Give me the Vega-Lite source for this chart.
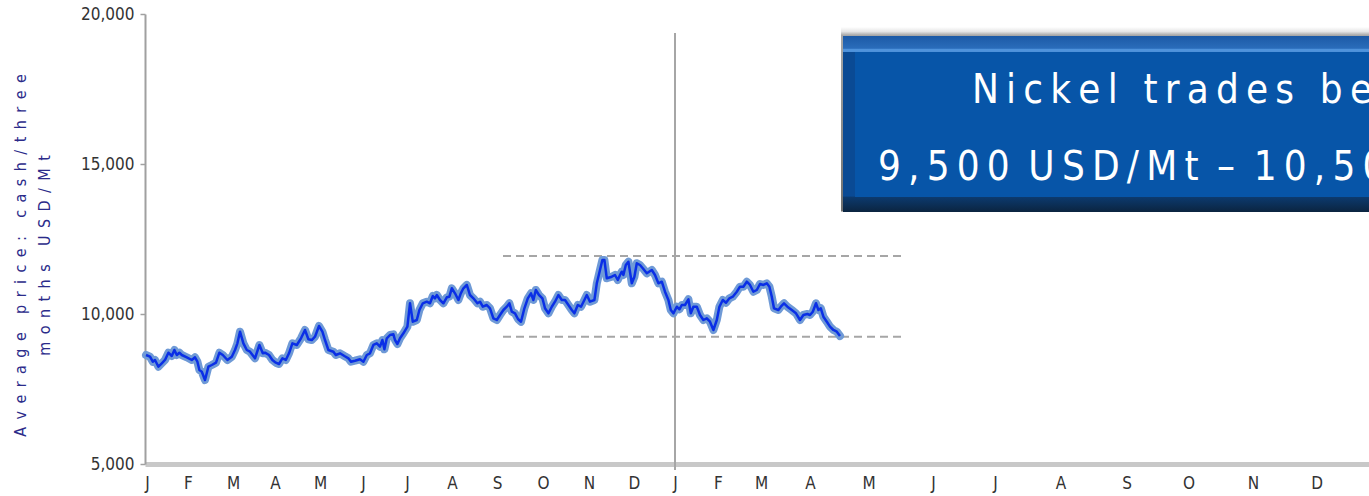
{
  "$schema": "https://vega.github.io/schema/vega-lite/v6.json",
  "width": 1224,
  "height": 450,
  "autosize": {"type": "none"},
  "padding": {"left": 145, "top": 14, "right": 0, "bottom": 32},
  "background": "white",
  "config": {"view": {"stroke": null}, "font": "DejaVu Sans Condensed, DejaVu Sans, sans-serif"},
  "resolve": {"axis": {"x": "independent", "y": "independent"}},
  "datasets": {
    "price": [
      {"d":0.5,"p":8633},{"d":2.5,"p":8577},{"d":3.9,"p":8410},{"d":5,"p":8467},{"d":6.7,"p":8243},{"d":8.4,"p":8357},{"d":10,"p":8467},{"d":11.7,"p":8710},{"d":13.4,"p":8600},{"d":14.7,"p":8800},{"d":15.9,"p":8633},{"d":17.2,"p":8710},{"d":18.4,"p":8633},{"d":20.9,"p":8557},{"d":23.4,"p":8467},{"d":25,"p":8557},{"d":26.2,"p":8410},{"d":27.2,"p":8133},{"d":28.4,"p":8077},{"d":30,"p":7800},{"d":31.7,"p":8243},{"d":33.4,"p":8300},{"d":35.5,"p":8377},{"d":37.2,"p":8710},{"d":38.9,"p":8633},{"d":41.2,"p":8467},{"d":43.4,"p":8577},{"d":45,"p":8800},{"d":46.2,"p":9023},{"d":47.5,"p":9410},{"d":49.2,"p":9023},{"d":50.9,"p":8800},{"d":52.5,"p":8743},{"d":55,"p":8523},{"d":57.2,"p":8967},{"d":58.9,"p":8690},{"d":60,"p":8710},{"d":62,"p":8633},{"d":63.7,"p":8467},{"d":65.4,"p":8377},{"d":67,"p":8333},{"d":68.7,"p":8523},{"d":70.4,"p":8467},{"d":72,"p":8690},{"d":73.7,"p":9023},{"d":75.9,"p":8967},{"d":78,"p":9190},{"d":80,"p":9467},{"d":81.7,"p":9157},{"d":83.4,"p":9133},{"d":85,"p":9243},{"d":87,"p":9600},{"d":88.7,"p":9410},{"d":90,"p":9133},{"d":91.7,"p":8800},{"d":94.2,"p":8743},{"d":95.4,"p":8633},{"d":97.5,"p":8690},{"d":99.7,"p":8600},{"d":101.7,"p":8523},{"d":103,"p":8410},{"d":105,"p":8443},{"d":107.5,"p":8490},{"d":109.2,"p":8410},{"d":110.9,"p":8633},{"d":112.5,"p":8690},{"d":114.2,"p":8967},{"d":115.9,"p":9023},{"d":117.5,"p":8910},{"d":118.7,"p":9133},{"d":119.7,"p":8823},{"d":120.9,"p":9190},{"d":122.5,"p":9300},{"d":124.2,"p":9323},{"d":125,"p":9133},{"d":126.2,"p":9000},{"d":127.5,"p":9190},{"d":129.2,"p":9357},{"d":131.2,"p":9577},{"d":132.5,"p":10357},{"d":133.9,"p":9743},{"d":135.9,"p":9800},{"d":137.2,"p":10133},{"d":138.9,"p":10357},{"d":140.9,"p":10410},{"d":142.5,"p":10357},{"d":143.9,"p":10600},{"d":145,"p":10523},{"d":145.9,"p":10633},{"d":147.5,"p":10467},{"d":149.2,"p":10357},{"d":150.9,"p":10557},{"d":152.2,"p":10577},{"d":153.4,"p":10857},{"d":155,"p":10690},{"d":156.7,"p":10467},{"d":157.9,"p":10690},{"d":159.2,"p":10857},{"d":160.9,"p":10967},{"d":162.5,"p":10633},{"d":164.2,"p":10523},{"d":166.2,"p":10357},{"d":167.5,"p":10410},{"d":168.9,"p":10243},{"d":170.9,"p":10300},{"d":172.5,"p":10190},{"d":174.2,"p":9857},{"d":175.9,"p":9800},{"d":177.5,"p":9967},{"d":179.2,"p":10133},{"d":180.9,"p":10243},{"d":182.2,"p":10357},{"d":183.4,"p":10077},{"d":185,"p":10023},{"d":186.5,"p":9833},{"d":188,"p":9743},{"d":189.7,"p":10190},{"d":191.4,"p":10523},{"d":193,"p":10690},{"d":194.2,"p":10467},{"d":195.4,"p":10800},{"d":197,"p":10633},{"d":198.7,"p":10523},{"d":200,"p":10190},{"d":201.7,"p":10023},{"d":203.4,"p":10243},{"d":205,"p":10410},{"d":206.7,"p":10633},{"d":208.4,"p":10467},{"d":210,"p":10467},{"d":211.7,"p":10300},{"d":213.4,"p":10133},{"d":214.7,"p":10023},{"d":216.4,"p":10300},{"d":218,"p":10243},{"d":219.7,"p":10467},{"d":220.9,"p":10633},{"d":222.5,"p":10410},{"d":224.7,"p":10467},{"d":225.9,"p":11023},{"d":227.5,"p":11467},{"d":228.7,"p":11800},{"d":229.7,"p":11800},{"d":230.9,"p":11190},{"d":233.4,"p":11243},{"d":235,"p":11300},{"d":236.4,"p":11133},{"d":237.5,"p":11300},{"d":238.4,"p":11410},{"d":239.2,"p":11300},{"d":240.4,"p":11633},{"d":241.7,"p":11743},{"d":243.4,"p":11023},{"d":244.7,"p":11243},{"d":245.9,"p":11690},{"d":247.5,"p":11633},{"d":249.2,"p":11500},{"d":250.9,"p":11357},{"d":253.4,"p":11467},{"d":255,"p":11300},{"d":256.7,"p":11023},{"d":258.4,"p":11077},{"d":260,"p":10743},{"d":261.7,"p":10467},{"d":262.9,"p":10133},{"d":264.2,"p":10023},{"d":265.9,"p":10243},{"d":267.2,"p":10157},{"d":268.4,"p":10300},{"d":270,"p":10300},{"d":271.7,"p":10490},{"d":272.9,"p":10023},{"d":274.2,"p":10243},{"d":275.9,"p":10243},{"d":277.5,"p":9967},{"d":279.2,"p":9800},{"d":280.9,"p":9857},{"d":282.5,"p":9743},{"d":284.2,"p":9467},{"d":285.9,"p":9800},{"d":287.2,"p":10243},{"d":288.9,"p":10467},{"d":290.5,"p":10377},{"d":292.2,"p":10523},{"d":293.9,"p":10577},{"d":295.9,"p":10743},{"d":297.5,"p":10910},{"d":299.2,"p":10910},{"d":300.9,"p":11077},{"d":302.5,"p":10967},{"d":304.2,"p":10743},{"d":305.9,"p":10800},{"d":307.5,"p":11000},{"d":309.2,"p":10967},{"d":310.9,"p":11023},{"d":312.2,"p":10910},{"d":313.4,"p":10577},{"d":314.5,"p":10190},{"d":316.7,"p":10133},{"d":317.9,"p":10243},{"d":319.5,"p":10357},{"d":321.2,"p":10243},{"d":323.4,"p":10133},{"d":325.5,"p":10023},{"d":327.5,"p":9800},{"d":329.2,"p":9967},{"d":331.2,"p":10000},{"d":332.5,"p":9967},{"d":333.9,"p":10077},{"d":335.5,"p":10357},{"d":336.7,"p":10133},{"d":337.9,"p":10190},{"d":339.2,"p":9910},{"d":340.9,"p":9743},{"d":342.5,"p":9577},{"d":344.2,"p":9467},{"d":345.9,"p":9410},{"d":347.5,"p":9267}
    ],
    "levels": [{"level": 11930}, {"level": 9240}],
    "one": [{"n": 1}],
    "line1": [{"t": "N\u2009i\u2009c\u2009k\u2009e\u2009l\u00a0\u2009\u2009t\u2009r\u2009a\u2009d\u2009e\u2009s\u00a0\u2009\u2009b\u2009e\u2009t\u2009w\u2009e\u2009e\u2009n"}],
    "line2": [{"t": "9\u2009,\u20095\u20090\u20090\u00a0\u2009U\u2009S\u2009D\u2009/\u2009M\u2009t\u00a0\u2009–\u00a0\u20091\u20090\u2009,\u20095\u20090\u20090\u00a0\u2009U\u2009S\u2009D\u2009/\u2009M\u2009t"}]
  },
  "layer": [
    {
      "data": {"name": "one"},
      "mark": {"type": "rect", "fill": {"gradient": "linear", "x1": 0, "y1": 0, "x2": 0, "y2": 1, "stops": [
        {"offset": 0, "color": "#ffffff"},
        {"offset": 0.025, "color": "#e6e6e6"},
        {"offset": 0.045, "color": "#a8a8a8"},
        {"offset": 1, "color": "#707070"}
      ]}},
      "encoding": {
        "x": {"datum": 348, "type": "quantitative", "scale": {"domain": [0, 612], "nice": false, "zero": false}, "axis": null},
        "x2": {"datum": 612},
        "y": {"datum": 19570, "type": "quantitative", "scale": {"domain": [5000, 20000], "nice": false, "zero": false}, "axis": null},
        "y2": {"datum": 13420}
      }
    },
    {
      "data": {"name": "one"},
      "mark": {"type": "rect", "fill": {"gradient": "linear", "x1": 0, "y1": 0, "x2": 0, "y2": 1, "stops": [
        {"offset": 0, "color": "#1c5aa6"},
        {"offset": 0.07, "color": "#2a6cba"},
        {"offset": 0.075, "color": "#4f93dc"},
        {"offset": 0.088, "color": "#4f93dc"},
        {"offset": 0.092, "color": "#0a4a94"},
        {"offset": 0.91, "color": "#0a4a94"},
        {"offset": 0.915, "color": "#0c3a6e"},
        {"offset": 1, "color": "#0b2440"}
      ]}},
      "encoding": {
        "x": {"datum": 349, "type": "quantitative", "scale": {"domain": [0, 612], "nice": false, "zero": false}, "axis": null},
        "x2": {"datum": 612},
        "y": {"datum": 19267, "type": "quantitative", "scale": {"domain": [5000, 20000], "nice": false, "zero": false}, "axis": null},
        "y2": {"datum": 13400}
      }
    },
    {
      "data": {"name": "one"},
      "mark": {"type": "rect", "fill": "#0755a8"},
      "encoding": {
        "x": {"datum": 355, "type": "quantitative", "scale": {"domain": [0, 612], "nice": false, "zero": false}, "axis": null},
        "x2": {"datum": 612},
        "y": {"datum": 18733, "type": "quantitative", "scale": {"domain": [5000, 20000], "nice": false, "zero": false}, "axis": null},
        "y2": {"datum": 13900}
      }
    },
    {
      "data": {"name": "line1"},
      "mark": {"type": "text", "color": "white", "fontSize": 40, "align": "left", "baseline": "alphabetic"},
      "encoding": {
        "x": {"datum": 413.5, "type": "quantitative", "scale": {"domain": [0, 612], "nice": false, "zero": false}, "axis": null},
        "y": {"datum": 17033, "type": "quantitative", "scale": {"domain": [5000, 20000], "nice": false, "zero": false}, "axis": null},
        "text": {"field": "t"}
      }
    },
    {
      "data": {"name": "line2"},
      "mark": {"type": "text", "color": "white", "fontSize": 40, "align": "left", "baseline": "alphabetic"},
      "encoding": {
        "x": {"datum": 366.5, "type": "quantitative", "scale": {"domain": [0, 612], "nice": false, "zero": false}, "axis": null},
        "y": {"datum": 14467, "type": "quantitative", "scale": {"domain": [5000, 20000], "nice": false, "zero": false}, "axis": null},
        "text": {"field": "t"}
      }
    },
    {
      "data": {"name": "levels"},
      "mark": {"type": "rule", "color": "#a6a6a6", "strokeWidth": 2, "strokeDash": [8, 5]},
      "encoding": {
        "x": {"datum": 179, "type": "quantitative", "scale": {"domain": [0, 612], "nice": false, "zero": false}, "axis": null},
        "x2": {"datum": 379},
        "y": {"field": "level", "type": "quantitative", "scale": {"domain": [5000, 20000], "nice": false, "zero": false}, "axis": null}
      }
    },
    {
      "data": {"name": "one"},
      "mark": {"type": "rule", "color": "#a6a6a6", "strokeWidth": 2},
      "encoding": {
        "x": {"datum": 265, "type": "quantitative", "scale": {"domain": [0, 612], "nice": false, "zero": false}, "axis": null},
        "y": {"datum": 19370, "type": "quantitative", "scale": {"domain": [5000, 20000], "nice": false, "zero": false}, "axis": null},
        "y2": {"datum": 4800}
      }
    },
    {
      "data": {"name": "price"},
      "mark": {"type": "line", "color": "#6f9ad6", "strokeWidth": 8, "strokeJoin": "round", "strokeCap": "round"},
      "encoding": {
        "x": {"field": "d", "type": "quantitative", "scale": {"domain": [0, 612], "nice": false, "zero": false}, "axis": null},
        "y": {"field": "p", "type": "quantitative", "scale": {"domain": [5000, 20000], "nice": false, "zero": false}, "axis": null}
      }
    },
    {
      "data": {"name": "price"},
      "mark": {"type": "line", "color": "#0a2fe6", "strokeWidth": 2.5, "strokeJoin": "round"},
      "encoding": {
        "x": {"field": "d", "type": "quantitative", "scale": {"domain": [0, 612], "nice": false, "zero": false},
          "axis": {"values": [1,21.5,44,65,87.5,109,131,153.5,176,199,222,244.5,265,286.5,308,332.5,361.75,394,425,457.75,490.75,521.8,554,585.8],
            "labelExpr": "['J','F','M','A','M','J','J','A','S','O','N','D','J','F','M','A','M','J','J','A','S','O','N','D'][indexof([1,21.5,44,65,87.5,109,131,153.5,176,199,222,244.5,265,286.5,308,332.5,361.75,394,425,457.75,490.75,521.8,554,585.8], datum.value)]",
            "title": null, "grid": false, "ticks": false, "domainColor": "#c8c8c8", "domainWidth": 5,
            "labelFontSize": 17, "labelColor": "#333333", "labelPadding": 11, "labelBaseline": "top", "labelAlign": "center",
            "labelFlush": false, "labelOverlap": false, "labelBound": false}},
        "y": {"field": "p", "type": "quantitative", "scale": {"domain": [5000, 20000], "nice": false, "zero": false},
          "axis": {"values": [5000, 10000, 15000, 20000], "format": ",.0f", "grid": false,
            "title": ["A\u00a0\u2009v\u00a0\u2009e\u00a0\u2009r\u00a0\u2009a\u00a0\u2009g\u00a0\u2009e\u00a0\u00a0\u00a0\u00a0p\u00a0\u2009r\u00a0\u2009i\u00a0\u2009c\u00a0\u2009e\u00a0\u2009:\u00a0\u00a0\u00a0\u00a0c\u00a0\u2009a\u00a0\u2009s\u00a0\u2009h\u00a0\u2009/\u00a0\u2009t\u00a0\u2009h\u00a0\u2009r\u00a0\u2009e\u00a0\u2009e", "m\u00a0\u2009o\u00a0\u2009n\u00a0\u2009t\u00a0\u2009h\u00a0\u2009s\u00a0\u00a0\u00a0\u00a0U\u00a0\u2009S\u00a0\u2009D\u00a0\u2009/\u00a0\u2009M\u00a0\u2009t"],
            "tickSize": 5, "tickColor": "#a0a0a0", "tickWidth": 1.5, "domainColor": "#a0a0a0", "domainWidth": 2,
            "labelFontSize": 17, "labelColor": "#333333", "labelPadding": 6,
            "titleFontSize": 16, "titleFontWeight": "normal", "titleColor": "#2b2b8a",
            "titleX": -133, "titleY": 241, "titleBaseline": "top", "titleAlign": "center", "titleAngle": -90, "titleLineHeight": 24}}
      }
    }
  ]
}
